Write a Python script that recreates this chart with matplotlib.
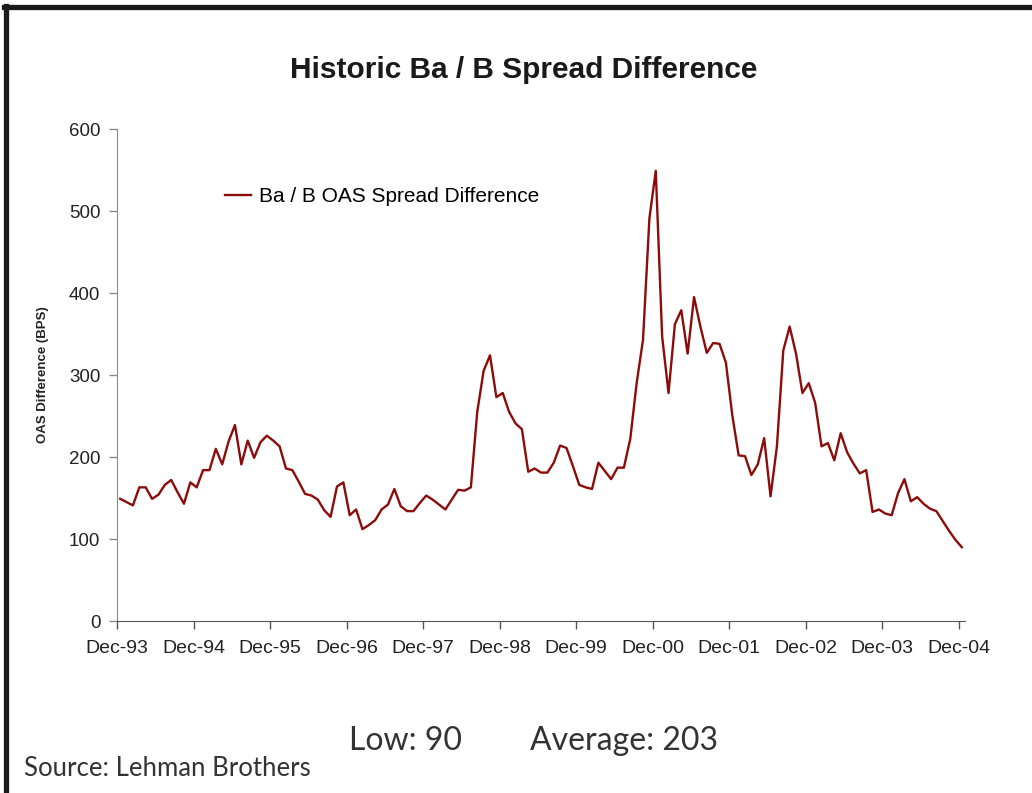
import matplotlib
matplotlib.use("Agg")
import matplotlib.pyplot as plt
from matplotlib.lines import Line2D
import numpy as np

# monthly Ba / B OAS spread difference, Dec-93 .. Dec-04 (bps)
spread = [149, 145, 141, 163, 163, 149, 154, 166, 172, 157, 143, 169,
          163, 184, 184, 210, 191, 219, 239, 191, 220, 199, 218, 226,
          220, 213, 186, 184, 170, 155, 153, 148, 135, 127, 164, 169,
          129, 136, 112, 117, 123, 136, 142, 161, 140, 134, 134, 144,
          153, 148, 142, 136, 148, 160, 159, 163, 255, 305, 324, 273,
          278, 255, 241, 234, 182, 186, 181, 181, 193, 214, 211, 189,
          166, 163, 161, 193, 183, 173, 187, 187, 222, 290, 343, 491,
          549, 347, 278, 362, 379, 326, 395, 359, 327, 339, 338, 315,
          251, 202, 201, 178, 191, 223, 152, 213, 330, 359, 326, 278,
          290, 266, 213, 217, 196, 229, 206, 192, 180, 184, 133, 136,
          131, 129, 156, 173, 146, 151, 143, 137, 134, 122, 110, 99,
          90]
year_labels = ["Dec-93", "Dec-94", "Dec-95", "Dec-96", "Dec-97", "Dec-98",
               "Dec-99", "Dec-00", "Dec-01", "Dec-02", "Dec-03", "Dec-04"]
y_ticks = [0, 100, 200, 300, 400, 500, 600]

line_color = "#8c0b0b"
plt.rcParams["font.family"] = ["Liberation Sans", "DejaVu Sans"]

W, H = 1032, 793
fig = plt.figure(figsize=(W / 100, H / 100), dpi=100)
ax = fig.add_axes([117 / W, 1 - 621 / H, 848 / W, 492 / H])

months = np.arange(len(spread))
ax.plot(months, spread, color=line_color, lw=1.7,
        label="Ba / B OAS Spread Difference")

ax.set_xlim(-0.5, len(spread) - 0.5)
ax.set_ylim(0, 600)
ax.set_yticks(y_ticks)
ax.set_xticks([i * 12 - 0.5 for i in range(len(year_labels))])
ax.set_xticklabels(year_labels)

for side in ["top", "right"]:
    ax.spines[side].set_visible(False)
ax.spines["left"].set_color("#8a8a8a")
ax.spines["bottom"].set_color("#555555")
ax.tick_params(axis="y", direction="out", length=6, width=1, colors="#8a8a8a",
               labelcolor="#222222", labelsize=13.5, pad=6)
ax.tick_params(axis="x", direction="out", length=6, width=1, colors="#555555",
               labelcolor="#222222", labelsize=14, pad=8)
ax.set_ylabel("OAS Difference (BPS)", fontsize=9.5, fontweight="bold",
              color="#222222", labelpad=14)

ax.legend(loc="center left", bbox_to_anchor=(108 / 848, 424 / 492),
          frameon=False, fontsize=15, handlelength=1.25, handletextpad=0.4,
          borderpad=0, borderaxespad=0)

fig.text(524 / W, 1 - 70 / H, "Historic Ba / B Spread Difference",
         ha="center", va="center", fontsize=21.5, fontweight="bold",
         color="#1a1a1a")

fig.text(349 / W, 1 - 741 / H, "Low: 90", ha="left", va="center",
         fontsize=23, family="Lato", color="#333333")
fig.text(530 / W, 1 - 741 / H, "Average: 203", ha="left", va="center",
         fontsize=23, family="Lato", color="#333333")
fig.text(24 / W, 1 - 769 / H, "Source: Lehman Brothers", ha="left",
         va="center", fontsize=18.5, family="Lato", color="#333333")

# page frame: thick rule along the top and left edges
fig.add_artist(Line2D([6 / W, 6 / W], [0, 1 - 6 / H], color="#1a1a1a",
                      lw=3.8, transform=fig.transFigure))
fig.add_artist(Line2D([4 / W, 1], [1 - 6.5 / H, 1 - 6.5 / H], color="#1a1a1a",
                      lw=3.8, transform=fig.transFigure))

fig.savefig("out.png", dpi=100)
